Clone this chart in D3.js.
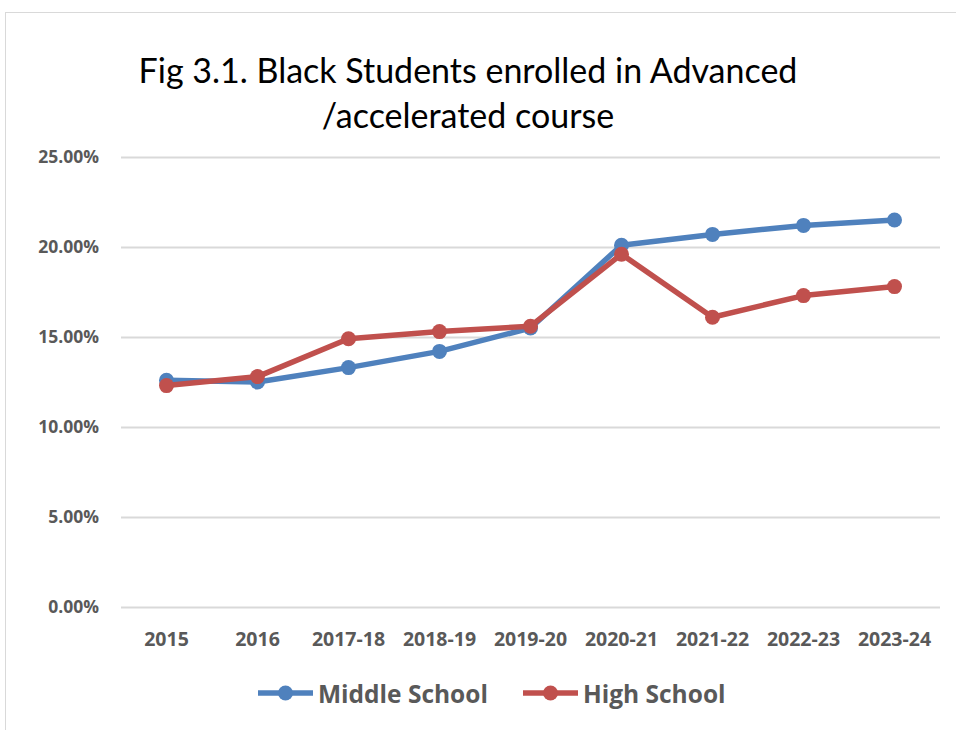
<!DOCTYPE html>
<html><head><meta charset="utf-8">
<script src="https://cdn.jsdelivr.net/npm/d3@7"></script>
<style>body{margin:0;background:#fff;}svg{display:block;}</style>
</head><body>
<svg id="c" width="956" height="730"></svg>
<script>
const categories = ["2015","2016","2017-18","2018-19","2019-20","2020-21","2021-22","2022-23","2023-24"];
const middleSchool = [12.6, 12.5, 13.3, 14.2, 15.5, 20.1, 20.7, 21.2, 21.5];
const highSchool = [12.3, 12.8, 14.9, 15.3, 15.6, 19.6, 16.1, 17.3, 17.8];
const yTicks = [0, 5, 10, 15, 20, 25];
const seriesNames = ["Middle School", "High School"];
const seriesColors = ["#4F81BD", "#C0504D"];
const titleLines = ["Fig 3.1. Black Students enrolled in Advanced", "/accelerated course"];

const svg = d3.select("#c");
svg.append("rect").attr("x",5.5).attr("y",12.5).attr("width",1000).attr("height",800)
  .attr("fill","#fff").attr("stroke","#d9d9d9").attr("stroke-width",1);

const x = d3.scaleBand().domain(categories).range([121, 940]);
const y = d3.scaleLinear().domain([0, 25]).range([607, 157]);

// title
svg.append("g").selectAll("text").data(titleLines).join("text")
  .attr("x", 468).attr("y", (d,i)=> 83 + i*45)
  .attr("text-anchor","middle")
  .attr("font-family","Lato, 'Open Sans', sans-serif")
  .attr("font-size", 34).attr("fill","#000").text(d=>d);

// gridlines
const yAxis = d3.axisLeft(y).tickValues(yTicks).tickSize(-(940-121)).tickFormat(d => d3.format(".2f")(d) + "%");
const gy = svg.append("g").attr("transform","translate(121,0)").call(yAxis);
gy.select(".domain").remove();
gy.selectAll(".tick line").attr("stroke","#d9d9d9").attr("stroke-width",2);
gy.selectAll(".tick text").attr("x",-22).attr("fill","#595959")
  .attr("font-family","'Open Sans', sans-serif").attr("font-weight","bold").attr("font-size",17.5);

const xAxis = d3.axisBottom(x).tickSize(0);
const gx = svg.append("g").attr("transform","translate(0,607)").call(xAxis);
gx.select(".domain").remove();
gx.selectAll(".tick text").attr("y",39).attr("dy",0).attr("fill","#595959")
  .attr("font-family","'Open Sans', sans-serif").attr("font-weight","bold").attr("font-size",19.5);

const series = [middleSchool, highSchool];
const line = d3.line().x((d,i)=> x(categories[i]) + x.bandwidth()/2).y(d=>y(d));
series.forEach((s, k) => {
  const g = svg.append("g");
  g.append("path").datum(s).attr("d", line).attr("fill","none")
    .attr("stroke", seriesColors[k]).attr("stroke-width",5.5).attr("stroke-linejoin","round");
  g.selectAll("circle").data(s).join("circle")
    .attr("cx",(d,i)=> x(categories[i]) + x.bandwidth()/2).attr("cy", d=>y(d))
    .attr("r",7.5).attr("fill", seriesColors[k]);
});

// legend
const legendX = [258, 523];
seriesNames.forEach((n,k)=>{
  const g = svg.append("g").attr("transform",`translate(${legendX[k]},693)`);
  g.append("line").attr("x1",0).attr("x2",55).attr("stroke",seriesColors[k]).attr("stroke-width",5.5);
  g.append("circle").attr("cx",27.5).attr("r",7.5).attr("fill",seriesColors[k]);
  g.append("text").attr("x",60).attr("y",10).attr("fill","#595959")
    .attr("font-family","'Open Sans', sans-serif").attr("font-weight","bold").attr("font-size",24.5).text(n);
});
</script>
</body></html>
